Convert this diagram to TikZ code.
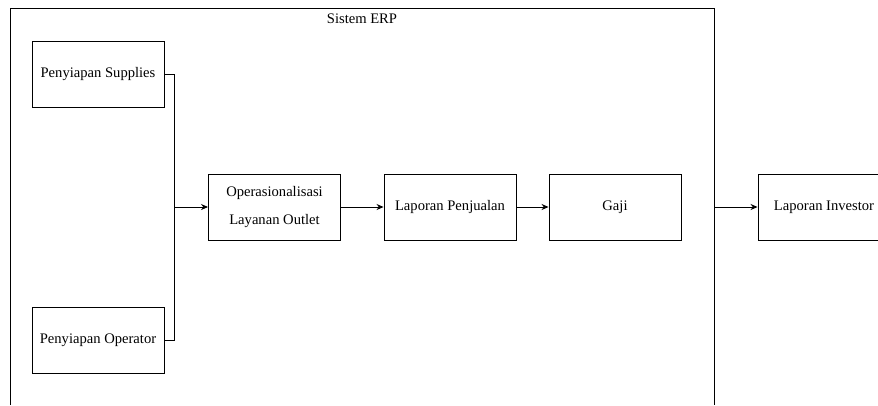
\documentclass[tikz,border=0pt]{standalone}
\usepackage{fontspec}
\setmainfont{Liberation Serif}
\usetikzlibrary{arrows.meta}
\usetikzlibrary{positioning}

\begin{document}
\begin{tikzpicture}[x=1pt,y=-1pt]
        \useasboundingbox (0,0) rectangle (878,405);
        % frame of the ERP system, open at the bottom
        \draw[line width=0.9pt] (10,405) |- (714,8) -- (714,405);
        \node[font=\fontsize{14.6}{17}\selectfont] (erp) at (362,19) {Sistem ERP};
        \begin{scope}[every node/.style={rectangle,draw,line width=0.9pt,
            minimum width=132pt,minimum height=66pt,inner sep=0pt,
            align=center,font=\fontsize{14.6}{28}\selectfont}]
            \node (1) at (98,74) {Penyiapan Supplies};
            \node (2) at (98,340) {Penyiapan Operator};
            \node (3) at (274.5,207) {Operasionalisasi\\Layanan Outlet};
            \node (4) at (450,207) {Laporan Penjualan};
            \node (5) at (615,207) {Gaji};
            \node (6) at (824,207) {Laporan Investor};
        \end{scope}
        \coordinate (j) at (174,207);
        \coordinate (k) at (714,207);
        \draw[line width=0.9pt] (1.east) -- ++(10,0) |- (2.east);
        \begin{scope}[>={Stealth[black,length=7pt,width=6pt]},
            every edge/.style={draw=black,line width=0.9pt}]
                    \path[->] (j) edge node {} (3);
                    \path[->] (3) edge node {} (4);
                    \path[->] (4) edge node {} (5);
                    \path[->] (k) edge node {} (6);
        \end{scope}
    \end{tikzpicture}
\end{document}
